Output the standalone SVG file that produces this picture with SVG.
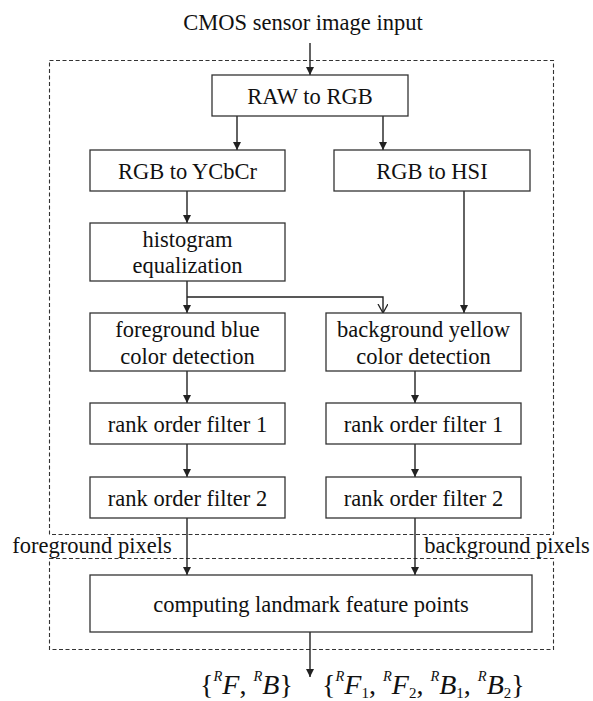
<svg xmlns="http://www.w3.org/2000/svg" width="593" height="701" viewBox="0 0 593 701">
  <style>
    .box { fill: #fff; stroke: #333; stroke-width: 1.3; }
    .frame { fill: none; stroke: #333; stroke-width: 1.1; stroke-dasharray: 4 2.5; }
    .link { fill: none; stroke: #222; stroke-width: 1.4; }
    text { font-family: "Liberation Serif", "Times New Roman", serif; font-size: 22.5px; fill: #111; text-anchor: middle; }
    .math { text-anchor: start; font-size: 28px; }
    .it { font-style: italic; }
    .sup { font-style: italic; font-size: 14.5px; }
    .sub { font-size: 15px; }
  </style>
  <defs>
    <marker id="arrow" markerUnits="userSpaceOnUse" markerWidth="9" markerHeight="10" refX="8" refY="4" orient="auto">
      <path d="M0,0 L8,4 L0,8 z" fill="#222"/>
    </marker>
    <marker id="open" markerUnits="userSpaceOnUse" markerWidth="10" markerHeight="12" refX="9" refY="5" orient="auto">
      <path d="M0,0 L9,5 L0,10" fill="none" stroke="#222" stroke-width="1.3"/>
    </marker>
  </defs>

  <rect fill="#fff" width="593" height="701"/>

  <!-- processing frames -->
  <g id="frames">
    <rect class="frame" x="49.5" y="60.5" width="504" height="474"/>
    <rect class="frame" x="49.5" y="558.5" width="504" height="91"/>
  </g>

  <text x="303" y="30">CMOS sensor image input</text>

  <!-- connectors -->
  <g id="connectors">
    <line class="link" x1="310" y1="43" x2="310" y2="75" marker-end="url(#arrow)"/>
    <line class="link" x1="237" y1="116" x2="237" y2="150" marker-end="url(#arrow)"/>
    <line class="link" x1="383" y1="116" x2="383" y2="150" marker-end="url(#arrow)"/>
    <line class="link" x1="187" y1="191" x2="187" y2="223" marker-end="url(#arrow)"/>
    <line class="link" x1="464" y1="191" x2="464" y2="313" marker-end="url(#arrow)"/>
    <line class="link" x1="187" y1="281" x2="187" y2="313" marker-end="url(#arrow)"/>
    <polyline class="link" points="187,297 383,297 383,313" marker-end="url(#open)"/>
    <line class="link" x1="187" y1="371" x2="187" y2="403" marker-end="url(#arrow)"/>
    <line class="link" x1="415" y1="371" x2="415" y2="403" marker-end="url(#arrow)"/>
    <line class="link" x1="187" y1="444" x2="187" y2="477" marker-end="url(#arrow)"/>
    <line class="link" x1="415" y1="444" x2="415" y2="477" marker-end="url(#arrow)"/>
    <line class="link" x1="187" y1="518" x2="187" y2="575" marker-end="url(#arrow)"/>
    <line class="link" x1="415" y1="518" x2="415" y2="575" marker-end="url(#arrow)"/>
    <line class="link" x1="310" y1="632" x2="310" y2="677" marker-end="url(#arrow)"/>
  </g>

  <g id="raw2rgb">
    <rect class="box" x="212" y="75" width="196" height="41"/>
    <text x="310" y="104">RAW to RGB</text>
  </g>
  <g id="rgb2ycbcr">
    <rect class="box" x="90" y="150" width="195" height="41"/>
    <text x="187.5" y="179">RGB to YCbCr</text>
  </g>
  <g id="rgb2hsi">
    <rect class="box" x="334" y="150" width="196" height="41"/>
    <text x="432" y="179">RGB to HSI</text>
  </g>
  <g id="histeq">
    <rect class="box" x="90" y="223" width="195" height="58"/>
    <text x="187.5" y="247">histogram</text>
    <text x="187.5" y="273">equalization</text>
  </g>
  <g id="fgdetect">
    <rect class="box" x="90" y="313" width="195" height="58"/>
    <text x="187.5" y="337">foreground blue</text>
    <text x="187.5" y="364">color detection</text>
  </g>
  <g id="bgdetect">
    <rect class="box" x="326" y="313" width="195" height="58"/>
    <text x="423.5" y="337">background yellow</text>
    <text x="423.5" y="364">color detection</text>
  </g>
  <g id="fgrank1">
    <rect class="box" x="90" y="403" width="195" height="41"/>
    <text x="187.5" y="432">rank order filter 1</text>
  </g>
  <g id="bgrank1">
    <rect class="box" x="326" y="403" width="195" height="41"/>
    <text x="423.5" y="432">rank order filter 1</text>
  </g>
  <g id="fgrank2">
    <rect class="box" x="90" y="477" width="195" height="41"/>
    <text x="187.5" y="506">rank order filter 2</text>
  </g>
  <g id="bgrank2">
    <rect class="box" x="326" y="477" width="195" height="41"/>
    <text x="423.5" y="506">rank order filter 2</text>
  </g>
  <g id="landmarks">
    <rect class="box" x="90" y="575" width="442" height="57"/>
    <text x="311" y="612">computing landmark feature points</text>
  </g>

  <text x="92" y="553">foreground pixels</text>
  <text x="507" y="553">background pixels</text>

  <!-- output feature sets -->
  <text class="math" x="200" y="694">{<tspan class="sup" dy="-13">R</tspan><tspan class="it" dy="13">F</tspan>, <tspan class="sup" dy="-13">R</tspan><tspan class="it" dy="13">B</tspan>}</text>
  <text class="math" x="322" y="694">{<tspan class="sup" dy="-13">R</tspan><tspan class="it" dy="13">F</tspan><tspan class="sub" dy="4">1</tspan><tspan dy="-4">, </tspan><tspan class="sup" dy="-13">R</tspan><tspan class="it" dy="13">F</tspan><tspan class="sub" dy="4">2</tspan><tspan dy="-4">, </tspan><tspan class="sup" dy="-13">R</tspan><tspan class="it" dy="13">B</tspan><tspan class="sub" dy="4">1</tspan><tspan dy="-4">, </tspan><tspan class="sup" dy="-13">R</tspan><tspan class="it" dy="13">B</tspan><tspan class="sub" dy="4">2</tspan><tspan dy="-4">}</tspan></text>
</svg>
